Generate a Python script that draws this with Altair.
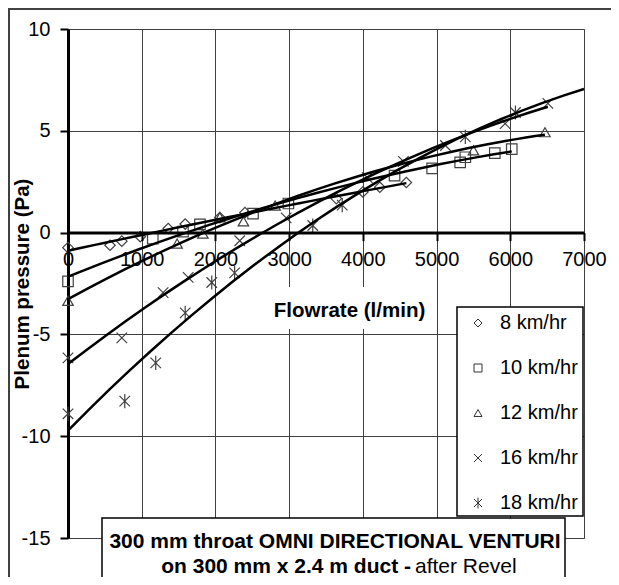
import altair as alt
import pandas as pd

FONT = "Liberation Sans"

series_names = ["8 km/hr", "10 km/hr", "12 km/hr", "16 km/hr", "18 km/hr"]

flow_8 = [0, 570, 730, 980, 1360, 1590, 2060, 2400, 3640, 4000, 4230, 4590]
pres_8 = [-0.74, -0.62, -0.42, -0.2, 0.2, 0.42, 0.74, 0.98, 1.67, 2.0, 2.23, 2.46]
flow_10 = [0, 1150, 1560, 1790, 2510, 2990, 4430, 4940, 5320, 5390, 5790, 6020]
pres_10 = [-2.4, -0.3, 0.05, 0.4, 0.93, 1.43, 2.8, 3.15, 3.45, 3.7, 3.9, 4.1]
flow_12 = [0, 1480, 1830, 2060, 2380, 2810, 5500, 6470]
pres_12 = [-3.35, -0.54, -0.05, 0.75, 0.55, 1.33, 4.04, 4.93]
flow_16 = [0, 730, 1290, 1630, 2330, 2960, 4060, 4550, 5120, 5930, 6510]
pres_16 = [-6.15, -5.17, -2.95, -2.2, -0.4, 0.72, 2.7, 3.5, 4.28, 5.35, 6.35]
flow_18 = [0, 770, 1190, 1590, 1950, 2260, 3320, 3720, 5390, 6070]
pres_18 = [-8.9, -8.28, -6.4, -3.94, -2.45, -1.98, 0.35, 1.35, 4.7, 5.9]

x_ticks = [0, 1000, 2000, 3000, 4000, 5000, 6000, 7000]
y_ticks = [-15, -10, -5, 0, 5, 10]

x_title = "Flowrate (l/min)"
y_title = "Plenum pressure (Pa)"
box_line1 = "300 mm throat OMNI DIRECTIONAL VENTURI"
box_line2_bold = "on 300 mm x 2.4 m duct -"
box_line2_normal = "after Revel"

rows = []
for name, xs, ys in zip(series_names,
                        [flow_8, flow_10, flow_12, flow_16, flow_18],
                        [pres_8, pres_10, pres_12, pres_16, pres_18]):
    for xv, yv in zip(xs, ys):
        rows.append({"series": name, "flow": xv, "pressure": yv})
df = pd.DataFrame(rows)

W, H = 516, 509
x_scale = alt.Scale(domain=[0, 7000], nice=False)
y_scale = alt.Scale(domain=[-15, 10], nice=False)

shape_range = ["diamond", "square", "triangle-up",
               "M-1,-1L1,1M-1,1L1,-1",
               "M-1,-1L1,1M-1,1L1,-1M0,-1.35L0,1.35"]

grid_x_axis = alt.Axis(values=x_ticks, grid=True, labels=False, ticks=False,
                       domain=False, title=None, gridColor="#404040",
                       gridWidth=1, orient="bottom")

y_axis = alt.Axis(values=y_ticks, grid=True, gridColor="#404040", gridWidth=1,
                  domainColor="black", domainWidth=3, tickColor="black",
                  tickWidth=2, tickSize=8, labelFontSize=20, labelPadding=10,
                  labelColor="black", labelExpr="'' + datum.value",
                  title=y_title, titleFontSize=20.5,
                  titleFontWeight="bold", titleColor="black",
                  titleX=-46, titleY=H / 2, titleAlign="center",
                  titleBaseline="middle", titleAngle=270)

zero_x_axis = alt.Axis(values=x_ticks, grid=False, orient="bottom",
                       offset=-(H * 15 / 25), domainColor="black",
                       domainWidth=3, tickColor="black", tickWidth=2,
                       tickSize=8, labelFontSize=20, labelPadding=9,
                       labelColor="black", labelFlush=False,
                       labelExpr="'' + datum.value",
                       title=x_title, titleFontSize=20.5,
                       titleFontWeight="bold", titleColor="black",
                       titleX=281, titleY=78, titleAlign="center",
                       titleBaseline="middle", zindex=1)

one = pd.DataFrame({"a": [0]})

border_top = alt.Chart(one).mark_rule(color="#404040", strokeWidth=2).encode(
    x=alt.value(-60), x2=alt.value(W + 27), y=alt.value(-20))
border_left = alt.Chart(one).mark_rule(color="#404040", strokeWidth=2).encode(
    x=alt.value(-59), y=alt.value(-21), y2=alt.value(H + 39))

title_bg = alt.Chart(one).mark_rect(fill="white").encode(
    x=alt.value(197), x2=alt.value(364), y=alt.value(258), y2=alt.value(300))

legend_box = alt.Chart(one).mark_rect(
    fill="white", stroke="black", strokeWidth=1.5
).encode(x=alt.value(389), x2=alt.value(515), y=alt.value(278), y2=alt.value(487))

note_box = alt.Chart(one).mark_rect(
    fill="white", stroke="black", strokeWidth=1.5
).encode(x=alt.value(34), x2=alt.value(497), y=alt.value(489), y2=alt.value(H + 60))

note1 = alt.Chart(pd.DataFrame({"t": [box_line1]})).mark_text(
    fontSize=21, fontWeight="bold", align="center", baseline="middle",
    color="black"
).encode(text="t:N", x=alt.value(267), y=alt.value(513))

note2a = alt.Chart(pd.DataFrame({"t": [box_line2_bold]})).mark_text(
    fontSize=21, fontWeight="bold", align="right", baseline="middle",
    color="black"
).encode(text="t:N", x=alt.value(343), y=alt.value(538))

note2b = alt.Chart(pd.DataFrame({"t": [box_line2_normal]})).mark_text(
    fontSize=21, align="left", baseline="middle", color="black"
).encode(text="t:N", x=alt.value(347), y=alt.value(538))

points = alt.Chart(df).mark_point(
    filled=False, size=110, strokeWidth=1.2, color="#404040", opacity=1
).encode(
    x=alt.X("flow:Q", scale=x_scale, axis=grid_x_axis),
    y=alt.Y("pressure:Q", scale=y_scale, axis=y_axis),
    shape=alt.Shape(
        "series:N",
        scale=alt.Scale(domain=series_names, range=shape_range),
        legend=alt.Legend(title=None, orient="none", legendX=400,
                          legendY=284, padding=0, rowPadding=25,
                          labelFontSize=20, labelColor="black",
                          symbolSize=64, symbolStrokeColor="#333333",
                          symbolStrokeWidth=1, labelOffset=12),
    ),
)

last = series_names[-1]

lines_a = alt.Chart(df).transform_filter(
    alt.datum.series != last
).transform_regression(
    "flow", "pressure", groupby=["series"], method="poly", order=2
).mark_line(color="black", strokeWidth=2.5).encode(
    x=alt.X("flow:Q", scale=x_scale, axis=zero_x_axis),
    y=alt.Y("pressure:Q", scale=y_scale, axis=y_axis),
    detail="series:N",
)

lines_b = alt.Chart(df).transform_filter(
    alt.datum.series == last
).transform_regression(
    "flow", "pressure", groupby=["series"], method="poly", order=2,
    extent=[0, 7000]
).mark_line(color="black", strokeWidth=2.5).encode(
    x=alt.X("flow:Q", scale=x_scale, axis=zero_x_axis),
    y=alt.Y("pressure:Q", scale=y_scale, axis=y_axis),
    detail="series:N",
)

lines = alt.layer(lines_a, lines_b)

chart = alt.layer(
    border_top, border_left, title_bg, legend_box, note_box,
    note1, note2a, note2b, points, lines
).resolve_axis(x="independent").properties(
    width=W, height=H,
    padding={"left": 60, "top": 21, "right": 27, "bottom": 39},
    autosize="none", background="white",
).configure(font=FONT).configure_view(stroke="#808080", strokeWidth=1)

chart.save("out.html", embed_options={"renderer": "svg", "actions": False})
